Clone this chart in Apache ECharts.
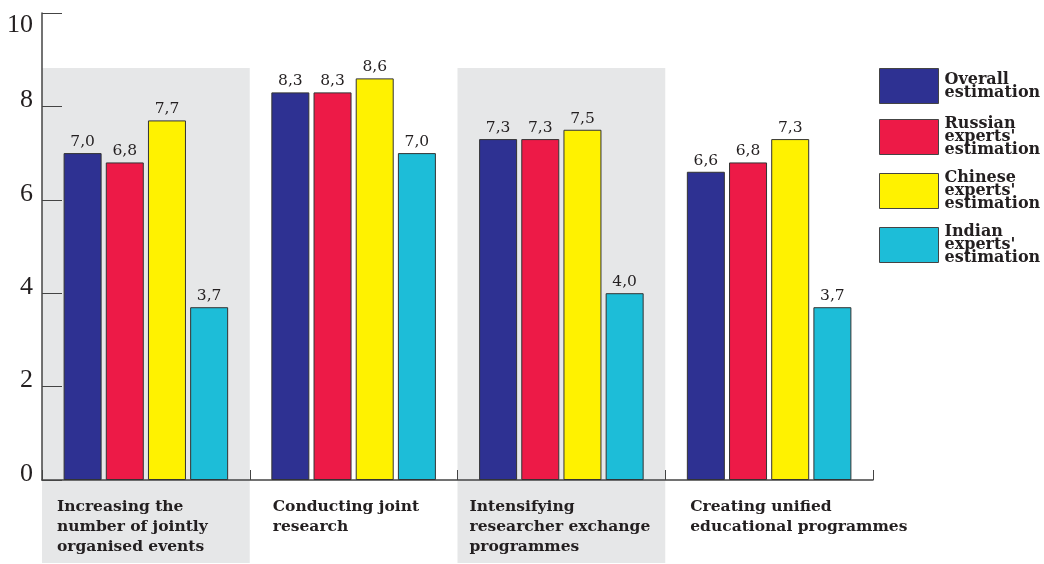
<!DOCTYPE html>
<html>
<head>
<meta charset="utf-8">
<style>
  html, body { margin: 0; padding: 0; background: #fff; }
  #chart { width: 1044px; height: 564px; }
</style>
<script src="https://cdn.jsdelivr.net/npm/echarts@6/dist/echarts.min.js"></script>
</head>
<body>
<div id="chart"></div>
<script>
// Measures of cooperation (categories)
const categories = [
  'Increasing the\nnumber of jointly\norganised events',
  'Conducting joint\nresearch',
  'Intensifying\nresearcher exchange\nprogrammes',
  'Creating unified\neducational programmes'
];

// Estimations per group of experts
const overall = [7.0, 8.3, 7.3, 6.6];
const russian = [6.8, 8.3, 7.3, 6.8];
const chinese = [7.7, 8.6, 7.5, 7.3];
const indian  = [3.7, 7.0, 4.0, 3.7];

const seriesNames = [
  'Overall\nestimation',
  'Russian\nexperts\'\nestimation',
  'Chinese\nexperts\'\nestimation',
  'Indian\nexperts\'\nestimation'
];
const yTicks = [0, 2, 4, 6, 8, 10];
const shadedCategories = [0, 2];

const colors = ['#2e3192', '#ed1a47', '#fff200', '#1dbdd8'];
const serif = '"DejaVu Serif", serif';
const ink = '#231f20';

const chart = echarts.init(document.getElementById('chart'));

function makeBar(name, values, color) {
  return {
    name: name,
    type: 'bar',
    data: values,
    barWidth: 38,
    barGap: '11%',
    itemStyle: { color: color, borderColor: '#333', borderWidth: 1 },
    label: {
      show: true,
      position: 'top',
      distance: 3,
      color: ink,
      fontFamily: serif,
      fontSize: 15.5,
      formatter: p => p.value.toFixed(1).replace('.', ',')
    }
  };
}

// left offsets of category captions, per category
const captionPad = [15, 23, 12, 25];
const rich = {};
captionPad.forEach((pad, i) => {
  rich['c' + i] = {
    fontFamily: serif, fontWeight: 'bold', fontSize: 15.5,
    lineHeight: 20, color: ink, padding: [0, 0, 0, pad]
  };
});

const tickFont = { fontFamily: '"Liberation Serif", serif', fontSize: 26, color: ink };

const option = {
  animation: false,
  backgroundColor: '#fff',
  color: colors,
  grid: { left: 42, right: 171, top: 13, bottom: 84, containLabel: false },
  legend: {
    orient: 'vertical',
    left: 879,
    top: 68,
    padding: 0,
    itemWidth: 59,
    itemHeight: 35,
    itemGap: 12,
    icon: 'rect',
    selectedMode: false,
    textStyle: {
      fontFamily: serif, fontWeight: 'bold', fontSize: 16,
      lineHeight: 13, color: ink, padding: [0, 0, 0, 1]
    },
    itemStyle: { borderColor: '#444', borderWidth: 1 }
  },
  xAxis: [
    {
      type: 'category',
      data: categories,
      axisLine: { lineStyle: { color: '#444', width: 1.5 } },
      axisTick: { show: true, inside: true, length: 10, lineStyle: { color: '#444', width: 1 } },
      axisLabel: { show: false }
    },
    {
      // boundary axis that carries the left-aligned category captions
      type: 'category',
      position: 'bottom',
      boundaryGap: false,
      data: categories.concat(['']),
      axisLine: { show: false },
      axisTick: { show: false },
      axisLabel: {
        interval: 0,
        align: 'left',
        verticalAlign: 'top',
        margin: 17,
        formatter: (value, idx) => value ? value.split('\n').map(l => '{c' + idx + '|' + l + '}').join('\n') : '',
        rich: rich
      }
    }
  ],
  yAxis: {
    type: 'value',
    min: yTicks[0],
    max: yTicks[yTicks.length - 1],
    interval: 2,
    axisLine: { show: true, lineStyle: { color: '#444', width: 1.5 } },
    axisTick: { show: true, inside: true, length: 20, lineStyle: { color: '#444', width: 1 } },
    splitLine: { show: false },
    axisLabel: {
      margin: 9,
      verticalAlign: 'middle',
      // numbers sit on their tick; the top one hangs below it
      formatter: v => {
        if (!yTicks.includes(v)) return '';
        return v === yTicks[yTicks.length - 1] ? '{hi|' + v + '}' : '{n|' + v + '}';
      },
      rich: {
        n: Object.assign({ padding: [0, 0, 12, 0] }, tickFont),
        hi: Object.assign({ padding: [25, 0, 0, 0] }, tickFont)
      }
    }
  },
  series: [
    makeBar(seriesNames[0], overall, colors[0]),
    makeBar(seriesNames[1], russian, colors[1]),
    makeBar(seriesNames[2], chinese, colors[2]),
    makeBar(seriesNames[3], indian, colors[3])
  ]
};

chart.setOption(option);

// light grey bands behind alternate categories, placed through the axis scale
const axis = chart.getModel().getComponent('xAxis', 0).axis;
const band = axis.getBandWidth();
const bandTop = chart.convertToPixel({ yAxisIndex: 0 }, 8.82);
const bands = shadedCategories.map(i => {
  const cx = chart.convertToPixel({ xAxisIndex: 0 }, categories[i]);
  return {
    type: 'rect',
    z: -10,
    silent: true,
    shape: { x: cx - band / 2, y: bandTop, width: band, height: 563 - bandTop },
    style: { fill: '#e6e7e8' }
  };
});
chart.setOption({ graphic: { elements: bands } });
</script>
</body>
</html>
